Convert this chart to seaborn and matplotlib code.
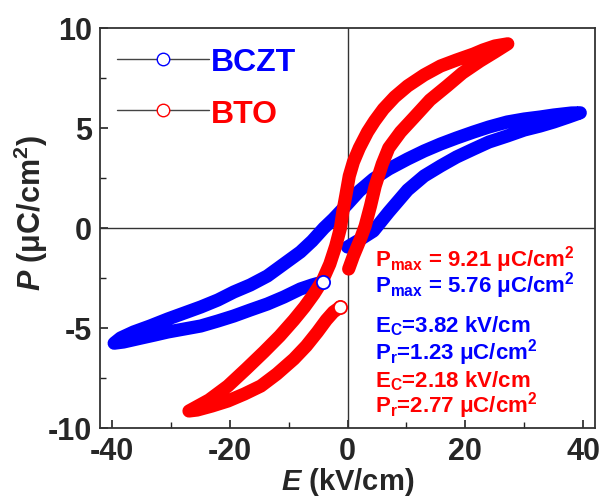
import matplotlib
matplotlib.use("Agg")
import matplotlib.pyplot as plt
import seaborn as sns
import pandas as pd
from matplotlib.lines import Line2D
from matplotlib.ticker import MultipleLocator

# ---- data ----
bczt_E = [0.0, 2.0, 4.4, 7.0, 10.2, 13.0, 15.8, 18.5, 21.4, 24.0, 27.1, 30.0, 32.7, 35.0, 37.5, 39.5,
          38.0, 35.0, 32.7, 30.0, 27.1, 24.0, 21.4, 18.5, 15.8, 13.0, 10.2, 7.0, 4.4, 2.0, 0.0,
          -2.4, -4.0, -6.0, -8.0, -10.8, -13.6, -16.5, -19.3, -22.0, -24.9, -27.7, -30.5, -33.5,
          -36.3, -38.5, -39.6,
          -38.0, -35.0, -32.7, -30.5, -27.7, -24.9, -22.0, -19.3, -16.5, -13.6, -10.8, -8.0, -6.0, -4.2]
bczt_P = [-0.95, -0.6, -0.15, 0.8, 1.9, 2.6, 3.1, 3.55, 3.95, 4.3, 4.6, 4.9, 5.1, 5.3, 5.55, 5.76,
          5.75, 5.65, 5.55, 5.45, 5.3, 5.05, 4.8, 4.5, 4.2, 3.85, 3.45, 2.95, 2.45, 1.85, 1.2,
          0.45, 0.0, -0.65, -1.2, -1.8, -2.4, -2.85, -3.2, -3.6, -3.95, -4.25, -4.55, -4.9,
          -5.2, -5.5, -5.76,
          -5.7, -5.5, -5.35, -5.2, -5.05, -4.9, -4.65, -4.4, -4.1, -3.8, -3.45, -3.05, -2.85, -2.7]

bto_E = [0.2, 1.0, 2.2, 3.0, 3.9, 4.7, 5.9, 7.0, 9.0, 11.2, 14.0, 16.9, 19.5, 22.5, 25.0, 27.2,
         25.0, 23.0, 21.4, 18.5, 15.8, 13.0, 10.2, 8.0, 6.1, 4.6, 3.4, 2.0, 1.0, 0.3, -0.3, -0.8,
         -1.2, -2.0, -3.0, -4.2, -5.7, -7.3, -9.1, -11.5, -14.2, -17.2, -20.3, -23.5, -26.9,
         -25.5, -23.0, -20.3, -17.5, -14.7, -12.0, -9.1, -7.0, -5.1, -3.6, -2.4, -1.2]
bto_P = [-2.05, -1.4, -0.55, 0.1, 1.1, 2.1, 3.2, 4.0, 4.8, 5.5, 6.4, 7.1, 7.75, 8.35, 8.8, 9.21,
         9.1, 8.9, 8.7, 8.4, 8.1, 7.65, 7.1, 6.55, 5.95, 5.35, 4.8, 4.0, 3.3, 2.6, 1.6, 0.8,
         0.0, -0.9, -1.8, -2.6, -3.3, -3.95, -4.6, -5.4, -6.2, -7.05, -7.9, -8.6, -9.15,
         -9.1, -8.9, -8.65, -8.3, -7.9, -7.3, -6.55, -5.9, -5.2, -4.6, -4.2, -3.95]

series_names = ["BCZT", "BTO"]
series_colors = ["#0000FF", "#FF0000"]

x_ticks = [-40, -20, 0, 20, 40]
y_ticks = [-10, -5, 0, 5, 10]

annotations = [
    (r"$\mathrm{P}_\mathrm{max}$ = 9.21 μC/cm$^\mathrm{2}$", "#FF0000"),
    (r"$\mathrm{P}_\mathrm{max}$ = 5.76 μC/cm$^\mathrm{2}$", "#0000FF"),
    (r"$\mathrm{E}_\mathrm{C}$=3.82 kV/cm", "#0000FF"),
    (r"$\mathrm{P}_\mathrm{r}$=1.23 μC/cm$^\mathrm{2}$", "#0000FF"),
    (r"$\mathrm{E}_\mathrm{C}$=2.18 kV/cm", "#FF0000"),
    (r"$\mathrm{P}_\mathrm{r}$=2.77 μC/cm$^\mathrm{2}$", "#FF0000"),
]

# ---- style ----
sns.set_style("ticks")
plt.rcParams["font.family"] = ["Liberation Sans", "DejaVu Sans"]
plt.rcParams["font.weight"] = "bold"
plt.rcParams["axes.unicode_minus"] = False
plt.rcParams["mathtext.fontset"] = "custom"
plt.rcParams["mathtext.rm"] = "Liberation Sans:bold"
plt.rcParams["mathtext.bf"] = "Liberation Sans:bold"
plt.rcParams["mathtext.it"] = "Liberation Sans:bold:italic"

fig = plt.figure(figsize=(6.01, 5.02), dpi=100)
ax = fig.add_axes([100 / 601, 1 - 429 / 502, 495 / 601, 400 / 502])

# zero lines
ax.axhline(0, color="#333333", lw=1.0, zorder=1)
ax.axvline(0, color="#333333", lw=1.0, zorder=1)

dfs = [pd.DataFrame({"E": bczt_E, "P": bczt_P}),
       pd.DataFrame({"E": bto_E, "P": bto_P})]

for df, c in zip(dfs, series_colors):
    sns.lineplot(data=df, x="E", y="P", sort=False, estimator=None, ax=ax,
                 color=c, lw=9.5, solid_capstyle="round", solid_joinstyle="round", zorder=3)
    # hollow marker at the final point
    sns.scatterplot(data=df.tail(1), x="E", y="P", ax=ax, marker="o", s=90,
                    facecolor="white", edgecolor=c, linewidth=1.3, zorder=4)

ax.set_xlim(-42, 42)
ax.set_ylim(-10, 10)
ax.set_xticks(x_ticks)
ax.set_yticks(y_ticks)
ax.set_xticklabels([str(v) for v in x_ticks])
ax.set_yticklabels([str(v) for v in y_ticks])
ax.xaxis.set_minor_locator(MultipleLocator(10))
ax.yaxis.set_minor_locator(MultipleLocator(2.5))
ax.tick_params(which="major", direction="in", length=6, width=1.2, labelsize=22, pad=6,
               color="#222222")
ax.tick_params(which="minor", direction="in", length=4, width=1.0, color="#222222")
for lab in ax.get_xticklabels() + ax.get_yticklabels():
    lab.set_fontweight("bold")
for s in ax.spines.values():
    s.set_linewidth(1.3)
    s.set_color("#333333")

ax.set_xlabel(r"$\mathit{E}$ (kV/cm)", fontsize=21, fontweight="bold")
ax.set_ylabel(r"$\mathit{P}$ (μC/cm$^\mathrm{2}$)", fontsize=22, fontweight="bold")
ax.xaxis.set_label_coords(0.5, -0.092)
ax.yaxis.set_label_coords(-0.10, 0.54)

# annotations
ys = [0.405, 0.34, 0.2425, 0.1725, 0.105, 0.04]
for (txt, col), yy in zip(annotations, ys):
    ax.text(0.556, yy, txt, transform=ax.transAxes, color=col, fontsize=16,
            fontweight="bold", va="baseline", ha="left")

# legend
handles = [Line2D([0], [0], color="#444444", lw=1.0, marker="o", markersize=9,
                  markerfacecolor="white", markeredgecolor=c, markeredgewidth=1.0)
           for c in series_colors]
leg = ax.legend(handles, series_names, loc="upper left", bbox_to_anchor=(0.034, 0.952),
                frameon=False, handlelength=2.9, handletextpad=0.05,
                labelspacing=0.67, borderpad=0, borderaxespad=0,
                prop={"weight": "bold", "size": 23})
for t, c in zip(leg.get_texts(), series_colors):
    t.set_color(c)

fig.savefig("out.png", dpi=100)
